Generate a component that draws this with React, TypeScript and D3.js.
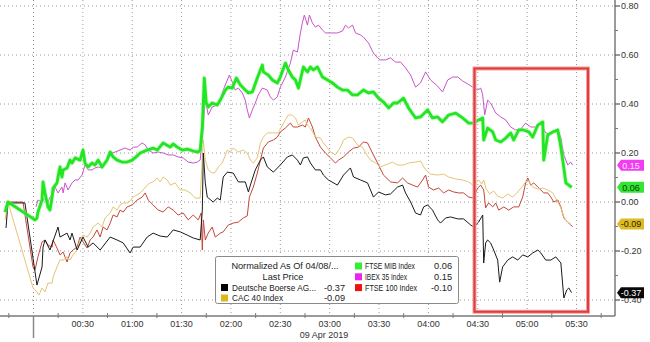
import React from "react";
import * as d3 from "d3";

// ---- Data (minutes after 00:00 on 09 Apr 2019, normalized value) ----
const deutscheBoerse: [number, number][] = [
  [-16.7,-0.106],[-15.5,-0.004],[-5.2,-0.004],[2.1,-0.339],[5.2,-0.265],[5.8,-0.184],[7,-0.155],[10,-0.196],
  [14.9,-0.102],[16.1,-0.143],[20.4,-0.127],[22.2,-0.155],[23.4,-0.127],[26.5,-0.196],[30.1,-0.143],[33.2,-0.184],
  [36.2,-0.167],[40.5,-0.196],[46.6,-0.143],[50.8,-0.155],[54.5,-0.167],[58.7,-0.208],[60.6,-0.184],[64.8,-0.184],
  [69.1,-0.143],[72.7,-0.127],[77,-0.139],[81.3,-0.143],[84.9,-0.114],[89.2,-0.122],[93.4,-0.135],[97.1,-0.147],
  [101.3,-0.155],[102.6,-0.033],[103.2,0.2],[104.4,0.078],[105.6,0.02],[109.2,0],[111.7,0.016],[113.5,0.008],
  [115.3,0.102],[117.8,0.122],[121.4,0.118],[124.5,0.082],[128.7,0.082],[130.6,0.041],[131.8,0.069],[134.8,0.131],
  [137.9,0.171],[139.7,0.184],[142.1,0.143],[145.8,0.122],[150,0.151],[154.3,0.184],[157.3,0.192],[160.4,0.171],
  [162.2,0.151],[164,0.18],[166.5,0.184],[168.3,0.159],[171.3,0.131],[174.4,0.131],[176.2,0.11],[179.2,0.09],
  [184.7,0.069],[188.4,0.11],[192.6,0.139],[194.5,0.102],[198.7,0.09],[203,0.078],[206.6,0.02],[209.7,0.041],
  [213.9,0.029],[217,0.033],[221.2,0.061],[224.3,0.069],[226.1,0.037],[229.2,0],[232.2,-0.045],[235.2,-0.053],
  [237.1,-0.02],[239.5,-0.012],[242.5,-0.033],[245.6,-0.073],[247.4,-0.086],[250.5,-0.065],[253.5,-0.061],
  [257.8,-0.069],[261.4,-0.069],[265.7,-0.094],[267.5,-0.102],[270.5,-0.082],[273,-0.053],[273.6,-0.249],
  [274.8,-0.167],[276,-0.155],[277.8,-0.167],[279.7,-0.196],[282.1,-0.237],[283.3,-0.327],[285.1,-0.265],
  [288.2,-0.237],[291.2,-0.224],[294.3,-0.237],[297.3,-0.216],[300.4,-0.224],[303.4,-0.208],[306.5,-0.196],
  [308.3,-0.208],[311.3,-0.237],[314.4,-0.237],[317.4,-0.224],[320.5,-0.249],[322.3,-0.392],[324.1,-0.359],
  [325.3,-0.351],[327,-0.37],
];

const cac40: [number, number][] = [
  [-17.3,-0.073],[-15.5,0],[-0.3,-0.351],[2.1,-0.367],[3.3,-0.38],[5.2,-0.351],[7,-0.367],[8.8,-0.331],[11.3,-0.331],
  [11.9,-0.306],[14.3,-0.265],[16.1,-0.237],[18,-0.237],[20.4,-0.224],[22.2,-0.237],[24,-0.216],[26.5,-0.196],
  [28.3,-0.155],[30.1,-0.135],[32.6,-0.143],[34.4,-0.127],[36.2,-0.102],[39.3,-0.086],[41.7,-0.102],[43.5,-0.065],
  [46.6,-0.045],[48.4,-0.02],[50.8,-0.033],[52.6,-0.012],[54.5,-0.004],[57.5,-0.004],[60.6,0.02],[64.8,0.037],
  [66.6,0.049],[69.1,0.069],[70.9,0.078],[72.7,0.082],[75.2,0.098],[77,0.082],[78.8,0.102],[81.3,0.09],[83.1,0.069],
  [86.1,0.078],[89.2,0.049],[92.2,0.049],[95.3,0.037],[98.3,0.016],[101.3,0.016],[103.2,0.253],[104.4,0.171],
  [106.2,0.131],[108.6,0.118],[110.5,0.122],[112.3,0.143],[114.7,0.159],[117.8,0.212],[119.6,0.204],[121.4,0.22],
  [124.5,0.204],[127.5,0.212],[129.9,0.2],[131.8,0.171],[133.6,0.159],[136,0.18],[137.9,0.241],[139.7,0.265],
  [142.1,0.282],[145.2,0.282],[148.8,0.282],[150.6,0.306],[153.1,0.335],[154.9,0.355],[157.3,0.355],[159.2,0.343],
  [161,0.314],[163.4,0.327],[165.2,0.335],[166.5,0.314],[168.3,0.302],[171.3,0.265],[174.4,0.261],[176.2,0.241],
  [178.7,0.22],[180.5,0.204],[183.5,0.192],[186.6,0.224],[188.4,0.253],[191.4,0.265],[193.9,0.261],[196.9,0.233],
  [199.9,0.224],[201.8,0.2],[204.8,0.171],[207.9,0.159],[210.9,0.143],[215.2,0.155],[218.2,0.163],[221.2,0.151],
  [224.9,0.151],[227.9,0.159],[232.2,0.163],[235.2,0.167],[238.3,0.131],[241.3,0.114],[245.6,0.11],[249.2,0.114],
  [252.3,0.102],[256.6,0.094],[260.8,0.09],[264.5,0.082],[266.9,0.069],[268.8,0.078],[270.5,0.09],[272.4,0.073],
  [273.6,0.09],[274.8,0.057],[277.2,0.033],[279.7,0.045],[282.1,0.024],[285.1,0.016],[288.2,0.033],[291.2,0.02],
  [294.3,0.041],[297.3,0.065],[299.1,0.082],[301,0.086],[303.4,0.061],[306.5,0.053],[309.5,0.057],[312.5,0.049],
  [315.6,0.037],[318,0.008],[320.5,-0.024],[322.3,-0.061],[324.1,-0.078],[326.5,-0.09],
];

const ftseMib: [number, number][] = [
  [-17.3,-0.041],[-15.5,0],[0.9,-0.073],[2.1,-0.065],[2.7,-0.041],[5.2,0.008],[5.8,0.082],[7,0.037],[8.8,-0.02],
  [10,-0.033],[11.3,0.02],[11.9,0.057],[14.3,0.078],[14.9,0.102],[16.1,0.143],[17.3,0.102],[18,0.131],[20.4,0.139],
  [22.2,0.171],[23.4,0.159],[25.3,0.18],[28.3,0.171],[30.1,0.212],[31.3,0.159],[33.2,0.143],[35.6,0.159],
  [37.4,0.151],[39.3,0.171],[41.7,0.143],[44.7,0.171],[46.6,0.204],[48.4,0.184],[50.8,0.171],[53.9,0.163],
  [56.9,0.163],[60,0.171],[63,0.188],[64.8,0.2],[69.1,0.212],[72.7,0.22],[75.2,0.212],[78.8,0.241],[83.1,0.224],
  [84.9,0.237],[87.3,0.224],[90.4,0.212],[93.4,0.216],[97.1,0.208],[100.1,0.204],[101.3,0.212],[102.6,0.306],
  [103.8,0.506],[105,0.404],[106.2,0.388],[108.6,0.404],[111.7,0.396],[113.5,0.416],[116.6,0.457],[118.4,0.469],
  [120.8,0.465],[123.3,0.506],[125.7,0.478],[128.7,0.457],[130.6,0.445],[133,0.449],[136,0.506],[139.1,0.559],
  [139.7,0.531],[142.7,0.518],[145.2,0.498],[148.2,0.486],[150,0.51],[153.1,0.567],[154.9,0.539],[157.3,0.51],
  [159.2,0.498],[161,0.465],[164,0.551],[166.5,0.531],[168.3,0.551],[170.1,0.539],[172.6,0.551],[175.6,0.51],
  [178.7,0.498],[181.7,0.486],[184.7,0.469],[187.8,0.457],[190.8,0.457],[193.9,0.437],[196.9,0.437],[200.5,0.457],
  [203.6,0.445],[206.6,0.449],[209.7,0.424],[212.7,0.408],[215.8,0.384],[218.8,0.404],[221.2,0.404],[224.9,0.424],
  [227.9,0.384],[232.2,0.343],[235.2,0.347],[239.5,0.376],[242.5,0.343],[245.6,0.347],[248.6,0.327],[252.3,0.355],
  [256.6,0.363],[260.8,0.343],[264.5,0.322],[267.5,0.322],[270.5,0.335],[273,0.343],[273.6,0.253],[276,0.302],
  [279.1,0.286],[280.9,0.253],[284,0.245],[287,0.261],[290,0.282],[291.8,0.253],[294.9,0.294],[297.9,0.294],
  [301,0.286],[303.4,0.265],[306.5,0.314],[309.5,0.327],[310.1,0.171],[312.5,0.273],[315.6,0.286],[318.6,0.294],
  [320.5,0.224],[322.3,0.139],[323.5,0.078],[325.3,0.069],[327.1,0.06],
];

const ibex35: [number, number][] = [
  [1.5,-0.02],[2.7,0.008],[5.2,0],[7,0.016],[8.8,0],[10,0.02],[11.9,0.029],[13.1,0.061],[14.9,0.037],[17.3,0.061],
  [18,0.037],[19.2,0.078],[21,0.049],[23.4,0.078],[25.3,0.09],[27.1,0.09],[29.5,0.11],[31.3,0.151],[33.2,0.131],
  [35.6,0.131],[37.4,0.139],[39.3,0.143],[41.7,0.139],[44.7,0.171],[47.8,0.2],[49.6,0.204],[52.6,0.212],[55.7,0.22],
  [58.7,0.212],[60.6,0.224],[63,0.224],[66,0.241],[67.9,0.233],[69.7,0.212],[72.7,0.2],[75.8,0.204],[78.8,0.2],
  [81.9,0.192],[84.9,0.192],[87.9,0.184],[91,0.18],[94,0.163],[97.1,0.159],[99.5,0.163],[101.3,0.171],[103.2,0.306],
  [104.4,0.424],[106.2,0.355],[108.6,0.388],[111.7,0.396],[113.5,0.416],[115.3,0.457],[117.8,0.498],[119,0.518],
  [120.8,0.49],[122.6,0.457],[124.5,0.465],[126.9,0.445],[128.7,0.416],[129.9,0.376],[131.2,0.343],[133,0.376],
  [134.8,0.404],[136.6,0.437],[139.1,0.465],[142.1,0.457],[143.9,0.429],[145.8,0.416],[148.2,0.429],[150,0.469],
  [153.1,0.51],[156.1,0.567],[157.9,0.62],[160.4,0.612],[162.2,0.69],[163.4,0.731],[164.6,0.763],[166.5,0.722],
  [167.7,0.763],[169.5,0.731],[171.3,0.714],[173.2,0.722],[175.6,0.702],[177.4,0.69],[180.5,0.69],[184.7,0.69],
  [187.8,0.698],[189.6,0.722],[191.4,0.71],[193.9,0.722],[195.7,0.69],[198.7,0.682],[200.5,0.673],[203.6,0.649],
  [206.6,0.608],[209.1,0.588],[210.9,0.58],[213.9,0.58],[217,0.588],[220,0.571],[223.1,0.571],[226.1,0.547],
  [229.2,0.518],[232.2,0.469],[235.2,0.486],[238.3,0.531],[241.3,0.498],[245.6,0.473],[248.6,0.449],[251.7,0.498],
  [254.7,0.51],[257.8,0.51],[260.8,0.494],[263.9,0.482],[266.9,0.469],[270,0.457],[271.8,0.465],[273,0.437],
  [274.2,0.355],[276,0.416],[277.8,0.404],[280.9,0.363],[284,0.347],[287,0.335],[290,0.306],[293,0.294],
  [296.1,0.298],[299.1,0.322],[302.2,0.306],[305.2,0.306],[308.3,0.322],[311.3,0.282],[313.2,0.278],[316.2,0.29],
  [318.6,0.298],[320.5,0.261],[322.3,0.192],[324.7,0.151],[326.5,0.163],[327.7,0.15],
];

const ftse100: [number, number][] = [
  [-17.3,-0.041],[-16.1,0],[-6.4,0],[-0.3,-0.265],[0.9,-0.278],[2.7,-0.224],[5.2,-0.163],[7,-0.155],[8.8,-0.176],
  [11.3,-0.184],[11.9,-0.155],[14.3,-0.188],[16.1,-0.216],[18,-0.204],[20.4,-0.245],[22.2,-0.208],[24,-0.196],
  [26.5,-0.184],[28.3,-0.143],[30.1,-0.163],[32.6,-0.188],[34.4,-0.155],[36.2,-0.143],[38.6,-0.114],[40.5,-0.143],
  [42.3,-0.102],[44.7,-0.114],[46.6,-0.086],[48.4,-0.053],[50.8,-0.061],[52.6,-0.033],[54.5,-0.041],[56.9,-0.02],
  [60,-0.012],[63,0.008],[66,0.02],[67.9,0.037],[69.7,0.008],[72.7,-0.012],[75.8,-0.033],[78.8,-0.041],[81.9,-0.02],
  [84.9,-0.033],[87.9,-0.053],[91,-0.045],[94,-0.073],[97.1,-0.053],[100.1,-0.073],[101.9,-0.045],[102.6,-0.196],
  [103.2,-0.073],[104.4,-0.155],[106.2,-0.127],[108.6,-0.102],[110.5,-0.143],[113.5,-0.127],[115.3,-0.122],
  [118.4,-0.094],[121.4,-0.086],[124.5,-0.082],[127.5,-0.065],[129.9,-0.057],[131.2,0.02],[133.6,0.061],[136,0.118],
  [137.9,0.171],[139.7,0.22],[142.7,0.245],[145.8,0.253],[148.2,0.265],[150,0.286],[153.1,0.302],[156.1,0.322],
  [157.9,0.306],[160.4,0.306],[163.4,0.314],[165.2,0.306],[167.1,0.343],[169.5,0.306],[171.3,0.265],[174.4,0.224],
  [177.4,0.2],[180.5,0.18],[183.5,0.159],[185.4,0.171],[188.4,0.184],[191.4,0.204],[194.5,0.22],[197.5,0.224],
  [200.5,0.245],[203,0.241],[206,0.2],[209.1,0.159],[212.7,0.11],[217,0.082],[221.2,0.078],[224.3,0.098],
  [227.3,0.078],[230.4,0.069],[233.4,0.061],[236.5,0.09],[238.3,0.11],[240.1,0.061],[243.1,0.049],[246.2,0.057],
  [249.2,0.037],[252.3,0.049],[255.3,0.041],[258.4,0.037],[261.4,0.037],[264.5,0.02],[267.5,0.016],[269.9,0.057],
  [271.8,0.069],[273.6,0.049],[274.8,-0.024],[276.6,-0.004],[279.1,-0.02],[280.9,-0.004],[282.7,-0.033],
  [285.8,-0.02],[288.8,-0.033],[291.8,-0.02],[294.9,-0.02],[297.3,0.02],[299.1,0.078],[300.4,0.098],[302.2,0.069],
  [304,0.078],[306.5,0.061],[308.3,0.049],[310.1,0.037],[312.5,0.037],[314.4,0.02],[316.2,0],[318.6,0.008],
  [320.5,-0.02],[322.3,-0.065],[324.7,-0.082],[326.5,-0.094],[327.7,-0.1],
];

const yTicks = [-0.4, -0.2, 0, 0.2, 0.4, 0.6, 0.8];
const yMinorTicks = [-0.3, -0.1, 0.1, 0.3, 0.5, 0.7];
const xLabelTicks = [30, 60, 90, 120, 150, 180, 210, 240, 270, 300, 330];
const xGridTicks = [0, 30, 60, 90, 120, 150, 180, 210, 240, 270, 300, 330];
const xMinorTicks = [-15, 15, 45, 75, 105, 135, 165, 195, 225, 255, 285, 315, 345];
const dateLabel = "09 Apr 2019";
const highlightWindow = [268, 337]; // minutes
const highlightRange = [-0.448, 0.545]; // values

const legendTitle = ["Normalized As Of 04/08/...", "Last Price"];
const legendLeft = [
  { name: "Deutsche Boerse AG...", last: "-0.37", color: "#000000", w: 84 },
  { name: "CAC 40 Index", last: "-0.09", color: "#dcb81c", w: 51 },
];
const legendRight = [
  { name: "FTSE MIB Index", last: "0.06", color: "#33ee33", w: 50 },
  { name: "IBEX 35 Index", last: "0.15", color: "#ee22ee", w: 42 },
  { name: "FTSE 100 Index", last: "-0.10", color: "#ee1111", w: 52 },
];
const tags = [
  { value: 0.15, label: "0.15", fill: "#f23cf2", text: "#ffe8ff" },
  { value: 0.06, label: "0.06", fill: "#33e633", text: "#0a3a0a" },
  { value: -0.09, label: "-0.09", fill: "#dcbc22", text: "#2a2000" },
  { value: -0.37, label: "-0.37", fill: "#080808", text: "#ffffff" },
];

const W = 650, H = 342;
const FONT = "'Liberation Sans', Arial, sans-serif";

export default function App() {
  const x = d3.scaleLinear().domain([0, 330]).range([33.5, 576.5]);
  const y = d3.scaleLinear().domain([-0.4, 0.8]).range([300, 6]);
  const axisX = 615;
  const axisY = 316;
  const line = d3
    .line<[number, number]>()
    .x((d) => x(d[0]))
    .y((d) => y(d[1]))
    .curve(d3.curveLinear);
  const fmt = (m: number) =>
    `${String(Math.floor(m / 60)).padStart(2, "0")}:${String(m % 60).padStart(2, "0")}`;

  const rx0 = x(highlightWindow[0]);
  const rx1 = x(highlightWindow[1]);
  const ry0 = y(highlightRange[1]);
  const ry1 = y(highlightRange[0]);

  return (
    <svg
      width={W}
      height={H}
      style={{ position: "absolute", left: 0, top: 0, background: "#fff" }}
      fontFamily={FONT}
    >
      <rect x={0} y={0} width={W} height={H} fill="#fff" />
      {/* gridlines */}
      {yTicks.map((t) => (
        <line key={"gy" + t} x1={0} x2={axisX} y1={y(t)} y2={y(t)} stroke="#9a9a9a" strokeWidth={1} strokeDasharray="1,3" />
      ))}
      {xGridTicks.map((t) => (
        <line key={"gx" + t} x1={x(t)} x2={x(t)} y1={0} y2={axisY} stroke={t === 0 ? "#888" : "#9a9a9a"} strokeWidth={1} strokeDasharray="1,3" />
      ))}

      {/* series */}
      <path d={line(ftse100) || ""} fill="none" stroke="#c4463a" strokeWidth={1} strokeLinejoin="round" />
      <path d={line(cac40) || ""} fill="none" stroke="#e4c574" strokeWidth={1} strokeLinejoin="round" />
      <path d={line(deutscheBoerse) || ""} fill="none" stroke="#1a1a1a" strokeWidth={1} strokeLinejoin="round" />
      <path d={line(ibex35) || ""} fill="none" stroke="#c855c8" strokeWidth={1} strokeLinejoin="round" />
      <path d={line(ftseMib) || ""} fill="none" stroke="#8cf58c" strokeWidth={4.5} strokeOpacity={0.45} strokeLinejoin="round" />
      <path d={line(ftseMib) || ""} fill="none" stroke="#22e622" strokeWidth={2.8} strokeLinejoin="round" />

      {/* highlight rectangle */}
      <rect x={rx0} y={ry0} width={rx1 - rx0} height={ry1 - ry0} fill="none" stroke="#f2a0a0" strokeWidth={4} />
      <rect x={rx0} y={ry0} width={rx1 - rx0} height={ry1 - ry0} fill="none" stroke="#e03c3c" strokeWidth={2} />

      {/* x axis */}
      <line x1={0} x2={axisX} y1={axisY} y2={axisY} stroke="#7a7a7a" strokeWidth={1.5} />
      {xMinorTicks.map((t) => (
        <line key={"mx" + t} x1={x(t)} x2={x(t)} y1={axisY - 3} y2={axisY + 2} stroke="#7a7a7a" strokeWidth={1} />
      ))}
      <line x1={x(0)} x2={x(0)} y1={axisY} y2={338} stroke="#8a8a8a" strokeWidth={1.5} />
      {xLabelTicks.map((t) => (
        <text key={"lx" + t} x={x(t)} y={327} fontSize={9} fill="#333" textAnchor="middle">
          {fmt(t)}
        </text>
      ))}
      <text x={324} y={338} fontSize={9} fill="#333" textAnchor="middle">{dateLabel}</text>

      {/* y axis */}
      <line x1={axisX} x2={axisX} y1={0} y2={axisY} stroke="#7a7a7a" strokeWidth={1.5} />
      {yMinorTicks.map((t) => (
        <line key={"my" + t} x1={axisX} x2={axisX + 3} y1={y(t)} y2={y(t)} stroke="#7a7a7a" strokeWidth={1} />
      ))}
      {yTicks.map((t) => (
        <g key={"ly" + t}>
          <line x1={axisX} x2={axisX + 5} y1={y(t)} y2={y(t)} stroke="#555" strokeWidth={1.2} />
          <text x={axisX + 6} y={y(t) + 3.2} fontSize={9} fill="#333">
            {t.toFixed(2)}
          </text>
        </g>
      ))}

      {/* value tags */}
      {tags.map((tg) => {
        const cy = y(tg.value);
        const h = 5.5;
        const p = `M${axisX + 2},${cy} L${axisX + 6},${cy - h} L${644},${cy - h} L${644},${cy + h} L${axisX + 6},${cy + h} Z`;
        return (
          <g key={"tag" + tg.label}>
            <path d={p} fill={tg.fill} />
            <text x={631} y={cy + 3.3} fontSize={9} fill={tg.text} textAnchor="middle">
              {tg.label}
            </text>
          </g>
        );
      })}

      {/* legend */}
      <rect x={215.5} y={256.5} width={243} height={47} rx={2} fill="#fff" stroke="#8a8a8a" strokeWidth={1} />
      <text x={285} y={269} fontSize={9.2} fill="#222" textAnchor="middle">{legendTitle[0]}</text>
      <text x={283} y={280} fontSize={9.2} fill="#222" textAnchor="middle">{legendTitle[1]}</text>
      {legendLeft.map((it, i) => (
        <g key={"ll" + i}>
          <rect x={221} y={284 + i * 10.5} width={7} height={7} fill={it.color} />
          <text x={232} y={290.5 + i * 10.5} fontSize={9.2} fill="#222" textLength={it.w} lengthAdjust="spacingAndGlyphs">{it.name}</text>
          <text x={345} y={290.5 + i * 10.5} fontSize={9.2} fill="#222" textAnchor="end">{it.last}</text>
        </g>
      ))}
      {legendRight.map((it, i) => (
        <g key={"lr" + i}>
          <rect x={355} y={262.5 + i * 10.8} width={7} height={7} fill={it.color} />
          <text x={365} y={269 + i * 10.8} fontSize={9.2} fill="#222" textLength={it.w} lengthAdjust="spacingAndGlyphs">{it.name}</text>
          <text x={452} y={269 + i * 10.8} fontSize={9.2} fill="#222" textAnchor="end">{it.last}</text>
        </g>
      ))}
    </svg>
  );
}
